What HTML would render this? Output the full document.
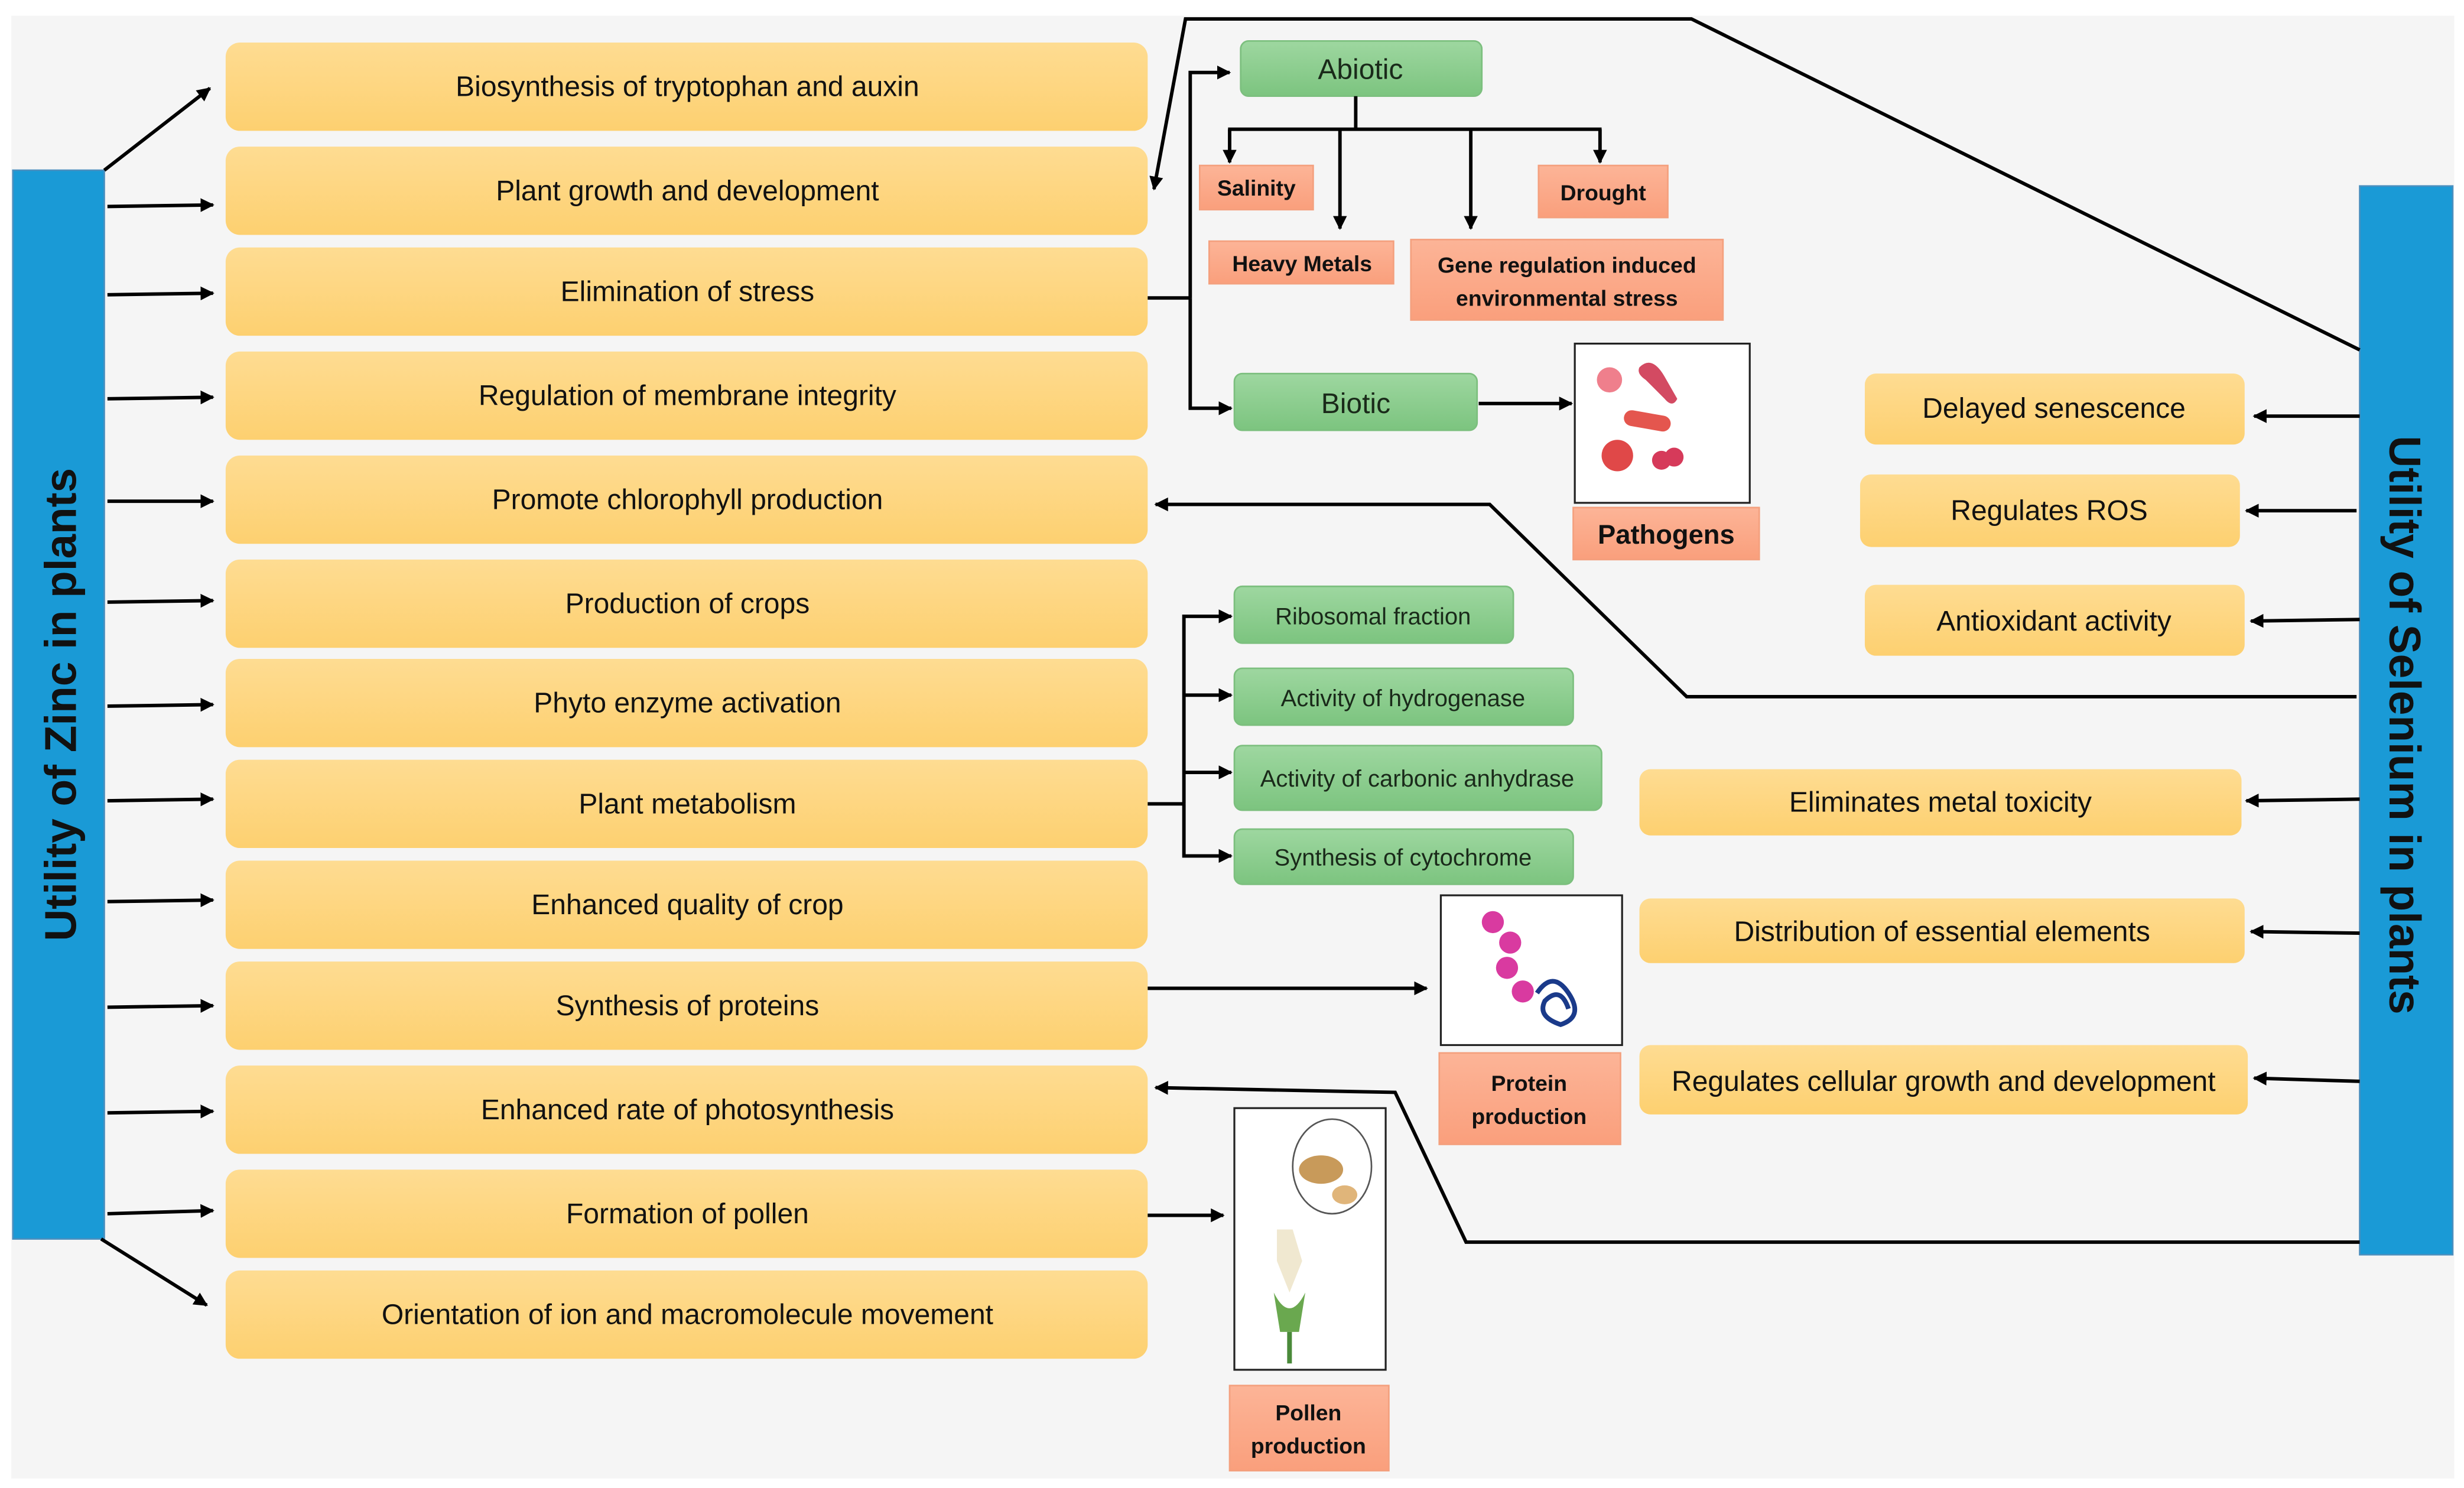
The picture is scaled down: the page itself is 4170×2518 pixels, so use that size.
<!DOCTYPE html>
<html><head><meta charset="utf-8"><style>
html,body{margin:0;padding:0;background:#fff;}
svg{display:block;}
text{font-family:"Liberation Sans",sans-serif;}
</style></head><body>
<svg width="4170" height="2518" viewBox="0 0 1563 944" xmlns="http://www.w3.org/2000/svg">
<defs>
<marker id="a" viewBox="0 0 10 10" refX="9" refY="5" markerWidth="4" markerHeight="4" orient="auto" markerUnits="strokeWidth"><path d="M0,0 L10,5 L0,10 z" fill="#000"/></marker>
<linearGradient id="y" x1="0" y1="0" x2="0" y2="1"><stop offset="0" stop-color="#fedc92"/><stop offset="1" stop-color="#fdd070"/></linearGradient>
<linearGradient id="g" x1="0" y1="0" x2="0" y2="1"><stop offset="0" stop-color="#9ed7a0"/><stop offset="1" stop-color="#7cc47f"/></linearGradient>
<linearGradient id="s" x1="0" y1="0" x2="0" y2="1"><stop offset="0" stop-color="#fcb497"/><stop offset="1" stop-color="#fa9f7c"/></linearGradient>
</defs>
<rect x="7" y="10" width="1550" height="928" fill="#f5f5f5"/>
<!-- blue bars -->
<rect x="8" y="108" width="58" height="678" fill="#1a9ad6" stroke="#4a8fbf" stroke-width="1"/>
<text transform="translate(48,447) rotate(-90)" text-anchor="middle" font-size="28" font-weight="bold" fill="#111">Utility of Zinc in plants</text>
<rect x="1497" y="118" width="59" height="678" fill="#1a9ad6" stroke="#4a8fbf" stroke-width="1"/>
<text transform="translate(1516,460) rotate(90)" text-anchor="middle" font-size="28" font-weight="bold" fill="#111">Utility of Selenium in plants</text>
<!-- yellow left boxes -->
<g fill="url(#y)">
<rect x="143" y="27" width="585" height="56" rx="9"/>
<rect x="143" y="93" width="585" height="56" rx="9"/>
<rect x="143" y="157" width="585" height="56" rx="9"/>
<rect x="143" y="223" width="585" height="56" rx="9"/>
<rect x="143" y="289" width="585" height="56" rx="9"/>
<rect x="143" y="355" width="585" height="56" rx="9"/>
<rect x="143" y="418" width="585" height="56" rx="9"/>
<rect x="143" y="482" width="585" height="56" rx="9"/>
<rect x="143" y="546" width="585" height="56" rx="9"/>
<rect x="143" y="610" width="585" height="56" rx="9"/>
<rect x="143" y="676" width="585" height="56" rx="9"/>
<rect x="143" y="742" width="585" height="56" rx="9"/>
<rect x="143" y="806" width="585" height="56" rx="9"/>
<rect x="1183" y="237" width="241" height="45" rx="7"/>
<rect x="1180" y="301" width="241" height="46" rx="7"/>
<rect x="1183" y="371" width="241" height="45" rx="7"/>
<rect x="1040" y="488" width="382" height="42" rx="7"/>
<rect x="1040" y="570" width="384" height="41" rx="7"/>
<rect x="1040" y="663" width="386" height="44" rx="7"/>
</g>
<g font-size="18" fill="#111" text-anchor="middle">
<text x="436" y="61">Biosynthesis of tryptophan and auxin</text>
<text x="436" y="127">Plant growth and development</text>
<text x="436" y="191">Elimination of stress</text>
<text x="436" y="257">Regulation of membrane integrity</text>
<text x="436" y="323">Promote chlorophyll production</text>
<text x="436" y="389">Production of crops</text>
<text x="436" y="452">Phyto enzyme activation</text>
<text x="436" y="516">Plant metabolism</text>
<text x="436" y="580">Enhanced quality of crop</text>
<text x="436" y="644">Synthesis of proteins</text>
<text x="436" y="710">Enhanced rate of photosynthesis</text>
<text x="436" y="776">Formation of pollen</text>
<text x="436" y="840">Orientation of ion and macromolecule movement</text>
<text x="1303" y="265">Delayed senescence</text>
<text x="1300" y="330">Regulates ROS</text>
<text x="1303" y="400">Antioxidant activity</text>
<text x="1231" y="515">Eliminates metal toxicity</text>
<text x="1232" y="597">Distribution of essential elements</text>
<text x="1233" y="692">Regulates cellular growth and development</text>
</g>
<!-- green boxes -->
<g fill="url(#g)" stroke="#7cbf7e" stroke-width="1">
<rect x="787" y="26" width="153" height="35" rx="5"/>
<rect x="783" y="237" width="154" height="36" rx="5"/>
<rect x="783" y="372" width="177" height="36" rx="5"/>
<rect x="783" y="424" width="215" height="36" rx="5"/>
<rect x="783" y="473" width="233" height="41" rx="5"/>
<rect x="783" y="526" width="215" height="35" rx="5"/>
</g>
<g fill="#1a2a1a" text-anchor="middle">
<text x="863" y="50" font-size="18">Abiotic</text>
<text x="860" y="262" font-size="18">Biotic</text>
<text x="871" y="396" font-size="15">Ribosomal fraction</text>
<text x="890" y="448" font-size="15">Activity of hydrogenase</text>
<text x="899" y="499" font-size="15">Activity of carbonic anhydrase</text>
<text x="890" y="549" font-size="15">Synthesis of cytochrome</text>
</g>
<!-- salmon -->
<g fill="url(#s)" stroke="#f4a07e" stroke-width="1">
<rect x="761" y="105" width="72" height="28"/>
<rect x="976" y="105" width="82" height="33"/>
<rect x="767" y="153" width="117" height="27"/>
<rect x="895" y="152" width="198" height="51"/>
<rect x="998" y="322" width="118" height="33"/>
<rect x="913" y="668" width="115" height="58"/>
<rect x="780" y="879" width="101" height="54"/>
</g>
<g fill="#111" font-weight="bold" text-anchor="middle" font-size="14">
<text x="797" y="124">Salinity</text>
<text x="1017" y="127">Drought</text>
<text x="826" y="172">Heavy Metals</text>
<text x="994" y="173">Gene regulation induced</text>
<text x="994" y="194">environmental stress</text>
<text x="1057" y="345" font-size="17">Pathogens</text>
<text x="970" y="692">Protein</text>
<text x="970" y="713">production</text>
<text x="830" y="901">Pollen</text>
<text x="830" y="922">production</text>
</g>
<!-- image boxes -->
<rect x="999" y="218" width="111" height="101" fill="#fff" stroke="#222" stroke-width="1.2"/>
<circle cx="1021" cy="241" r="8" fill="#ef7f8c"/>
<path d="M1040,233 q8,-8 16,6 l8,14 q-3,6 -8,0 l-12,-12 q-6,-4 -4,-8z" fill="#d34a62"/>
<rect x="1030" y="262" width="30" height="10" rx="5" fill="#e4564e" transform="rotate(10 1045 267)"/>
<circle cx="1026" cy="289" r="10" fill="#e04848"/>
<circle cx="1054" cy="292" r="6" fill="#d63a5a"/><circle cx="1062" cy="290" r="6" fill="#d63a5a"/>
<rect x="914" y="568" width="115" height="95" fill="#fff" stroke="#222" stroke-width="1.2"/>
<g fill="#d93aa0"><circle cx="947" cy="585" r="7"/><circle cx="958" cy="598" r="7"/><circle cx="956" cy="614" r="7"/><circle cx="966" cy="629" r="7"/></g>
<path d="M975,630 q10,-15 20,0 q10,15 -5,20 q-15,-5 -10,-15 q10,-10 15,5" fill="none" stroke="#1a3a8a" stroke-width="3"/>
<rect x="783" y="703" width="96" height="166" fill="#fff" stroke="#222" stroke-width="1.2"/>
<ellipse cx="845" cy="740" rx="25" ry="30" fill="#fff" stroke="#555"/>
<ellipse cx="838" cy="742" rx="14" ry="9" fill="#c89a5a"/><ellipse cx="853" cy="758" rx="8" ry="6" fill="#e0b57a"/>
<path d="M810,800 l8,20 l8,-20 l-6,-20 l-10,0z" fill="#f0e8d0"/>
<path d="M808,820 q10,20 20,0 l-4,25 h-12z" fill="#6aa84f"/>
<line x1="818" y1="845" x2="818" y2="865" stroke="#4a8a3a" stroke-width="3"/>
<!-- connectors -->
<g stroke="#000" stroke-width="2.2" fill="none" marker-end="url(#a)">
<line x1="66" y1="108" x2="133" y2="56"/>
<line x1="68" y1="131" x2="135" y2="130"/>
<line x1="68" y1="187" x2="135" y2="186"/>
<line x1="68" y1="253" x2="135" y2="252"/>
<line x1="68" y1="318" x2="135" y2="318"/>
<line x1="68" y1="382" x2="135" y2="381"/>
<line x1="68" y1="448" x2="135" y2="447"/>
<line x1="68" y1="508" x2="135" y2="507"/>
<line x1="68" y1="572" x2="135" y2="571"/>
<line x1="68" y1="639" x2="135" y2="638"/>
<line x1="68" y1="706" x2="135" y2="705"/>
<line x1="68" y1="770" x2="135" y2="768"/>
<line x1="64" y1="786" x2="131" y2="828"/>
<polyline points="1497,222 1073,12 752,12 732,120"/>
<polyline points="1495,442 1070,442 945,320 733,320"/>
<polyline points="1497,788 930,788 885,693 733,690"/>
<polyline points="755,189 755,46 780,46"/>
<polyline points="755,189 755,259 781,259"/>
<polyline points="780,82 780,103"/>
<line x1="850" y1="82" x2="850" y2="145"/>
<line x1="933" y1="82" x2="933" y2="145"/>
<polyline points="1015,82 1015,103"/>
<line x1="938" y1="256" x2="997" y2="256"/>
<polyline points="751,510 751,391 781,391"/>
<polyline points="751,441 781,441"/>
<polyline points="751,490 781,490"/>
<polyline points="751,510 751,543 781,543"/>
<line x1="728" y1="627" x2="905" y2="627"/>
<line x1="728" y1="771" x2="776" y2="771"/>
<line x1="1497" y1="264" x2="1430" y2="264"/>
<line x1="1495" y1="324" x2="1425" y2="324"/>
<line x1="1497" y1="393" x2="1428" y2="394"/>
<line x1="1497" y1="507" x2="1425" y2="508"/>
<line x1="1497" y1="592" x2="1428" y2="591"/>
<line x1="1497" y1="686" x2="1430" y2="684"/>
</g>
<g stroke="#000" stroke-width="2.2" fill="none">
<line x1="728" y1="189" x2="755" y2="189"/>
<line x1="728" y1="510" x2="751" y2="510"/>
<line x1="860" y1="61" x2="860" y2="82"/>
<line x1="779" y1="82" x2="1016" y2="82"/>
</g>
</svg>
</body></html>
